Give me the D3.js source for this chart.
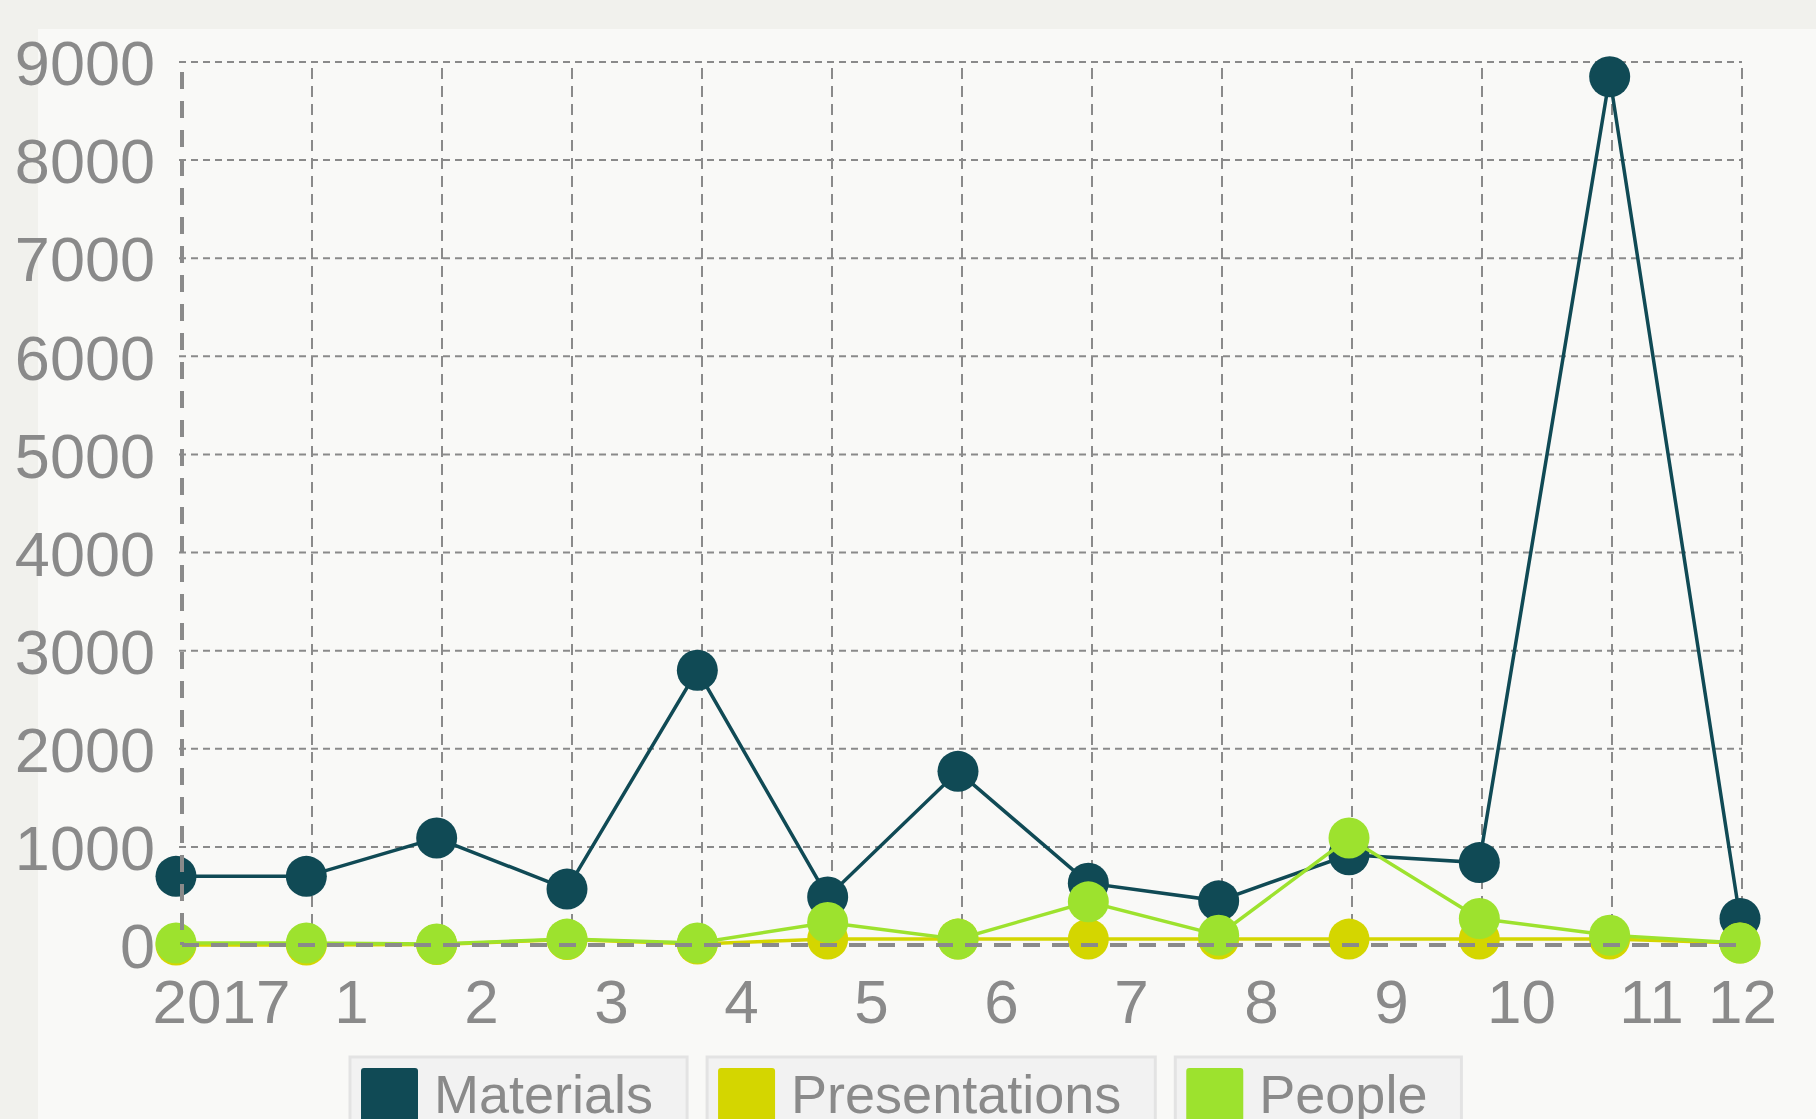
<!DOCTYPE html>
<html>
<head>
<meta charset="utf-8">
<script src="https://cdn.jsdelivr.net/npm/d3@7"></script>
<style>
  html, body { margin: 0; padding: 0; background: #f1f1ed; overflow: hidden; }
  svg { display: block; font-family: "Liberation Sans", Arial, sans-serif; }
</style>
</head>
<body>
<div id="chart"></div>
<script>
// chart data
const labels = ['2017', '1', '2', '3', '4', '5', '6', '7', '8', '9', '10', '11', '12'];
const materials = [700, 700, 1090, 570, 2800, 490, 1770, 630, 450, 920, 840, 8850, 270];
const presentations = [0, 0, 5, 55, 10, 60, 60, 60, 60, 60, 60, 60, 20];
const people = [20, 20, 10, 60, 20, 230, 60, 440, 100, 1090, 270, 100, 20];
const seriesNames = ['Materials', 'Presentations', 'People'];
const seriesColors = ['#104a55', '#d4d600', '#9de22e'];
const yTicks = [0, 1000, 2000, 3000, 4000, 5000, 6000, 7000, 8000, 9000];

const W = 1816, H = 1119;
const margin = { left: 182, right: 1742, top: 62, bottom: 945 };
const gray = '#8a8a8a';

const svg = d3.select('#chart').append('svg')
    .attr('width', W)
    .attr('height', H);

// background panel
svg.append('rect').attr('width', W).attr('height', H).attr('fill', '#f1f1ed');
svg.append('rect').attr('x', 38).attr('y', 29)
    .attr('width', W - 38).attr('height', H - 29).attr('fill', '#f9f9f7');

// scales
const idx = d3.range(labels.length);
const xGrid = d3.scaleLinear().domain([0, labels.length - 1]).range([margin.left, margin.right]);
const xPt = d3.scaleLinear().domain([0, labels.length - 1]).range([margin.left - 6, margin.right - 2]);
const y = d3.scaleLinear().domain([0, 9000]).range([margin.bottom, margin.top]);

// grid
const grid = svg.append('g').attr('class', 'grid');
grid.selectAll('.hgrid')
    .data(yTicks.filter(d => d > 0))
  .join('line')
    .attr('class', 'hgrid')
    .attr('x1', margin.left - 3).attr('x2', margin.right)
    .attr('y1', d => y(d)).attr('y2', d => y(d))
    .attr('stroke', gray).attr('stroke-width', 2)
    .attr('stroke-dasharray', '7,5');
grid.selectAll('.vgrid')
    .data(idx.filter(i => i > 0))
  .join('line')
    .attr('class', 'vgrid')
    .attr('x1', i => xGrid(i)).attr('x2', i => xGrid(i))
    .attr('y1', margin.top + 6).attr('y2', margin.bottom)
    .attr('stroke', gray).attr('stroke-width', 2)
    .attr('stroke-dasharray', '11,7');

// series
const series = [materials, presentations, people];
const lineFunc = d3.line()
    .x((d, i) => xPt(i))
    .y(d => y(d));

series.forEach((values, s) => {
  const g = svg.append('g').attr('class', 'series');
  g.append('path')
      .datum(values)
      .attr('d', lineFunc)
      .attr('fill', 'none')
      .attr('stroke', seriesColors[s])
      .attr('stroke-width', 3.5);
  g.selectAll('circle')
      .data(values)
    .join('circle')
      .attr('cx', (d, i) => xPt(i))
      .attr('cy', d => y(d))
      .attr('r', 20.5)
      .attr('fill', seriesColors[s]);
});

// axis lines on top
svg.append('line')
    .attr('x1', margin.left).attr('x2', margin.left)
    .attr('y1', margin.top + 10).attr('y2', margin.bottom)
    .attr('stroke', gray).attr('stroke-width', 4)
    .attr('stroke-dasharray', '17,12');
svg.append('line')
    .attr('x1', margin.left).attr('x2', margin.right)
    .attr('y1', margin.bottom).attr('y2', margin.bottom)
    .attr('stroke', gray).attr('stroke-width', 4)
    .attr('stroke-dasharray', '17,12');

// y axis labels
const yAxis = d3.axisLeft(y).tickValues(yTicks).tickFormat(d3.format('d')).tickSize(0).tickPadding(0);
const yAxisGroup = svg.append('g')
    .attr('transform', `translate(${margin.left - 27},0)`)
    .call(yAxis);
yAxisGroup.select('.domain').remove();
yAxisGroup.selectAll('text')
    .attr('font-size', 63)
    .attr('font-family', '"Liberation Sans", Arial, sans-serif')
    .attr('fill', gray)
    .attr('dy', '0.36em');

// x axis labels
const xAxis = d3.axisBottom(xGrid).tickValues(idx).tickFormat(i => labels[i]).tickSize(0).tickPadding(0);
const xAxisGroup = svg.append('g')
    .attr('transform', `translate(0,${margin.bottom})`)
    .call(xAxis);
xAxisGroup.select('.domain').remove();
xAxisGroup.selectAll('text')
    .attr('font-size', 62)
    .attr('font-family', '"Liberation Sans", Arial, sans-serif')
    .attr('fill', gray)
    .attr('dy', null)
    .attr('y', 78)
    .attr('dx', i => i === labels.length - 1 ? 0 : 39);

// legend (runs off the bottom edge, as in the original)
const legend = svg.append('g').attr('class', 'legend');
let lx = 350;
seriesNames.forEach((name, s) => {
  const item = legend.append('g').attr('transform', `translate(${lx},1057)`);
  const box = item.append('rect')
      .attr('x', 0).attr('y', 0)
      .attr('height', 120)
      .attr('fill', '#f2f2f2')
      .attr('stroke', '#e3e3e3')
      .attr('stroke-width', 3);
  item.append('rect')
      .attr('x', 11).attr('y', 11)
      .attr('width', 57).attr('height', 110)
      .attr('rx', 3)
      .attr('fill', seriesColors[s]);
  const txt = item.append('text')
      .attr('x', 84).attr('y', 56)
      .attr('font-size', 54)
      .attr('fill', gray)
      .text(name);
  const w = 84 + txt.node().getComputedTextLength() + 34;
  box.attr('width', w);
  lx += w + 20;
});
</script>
</body>
</html>
